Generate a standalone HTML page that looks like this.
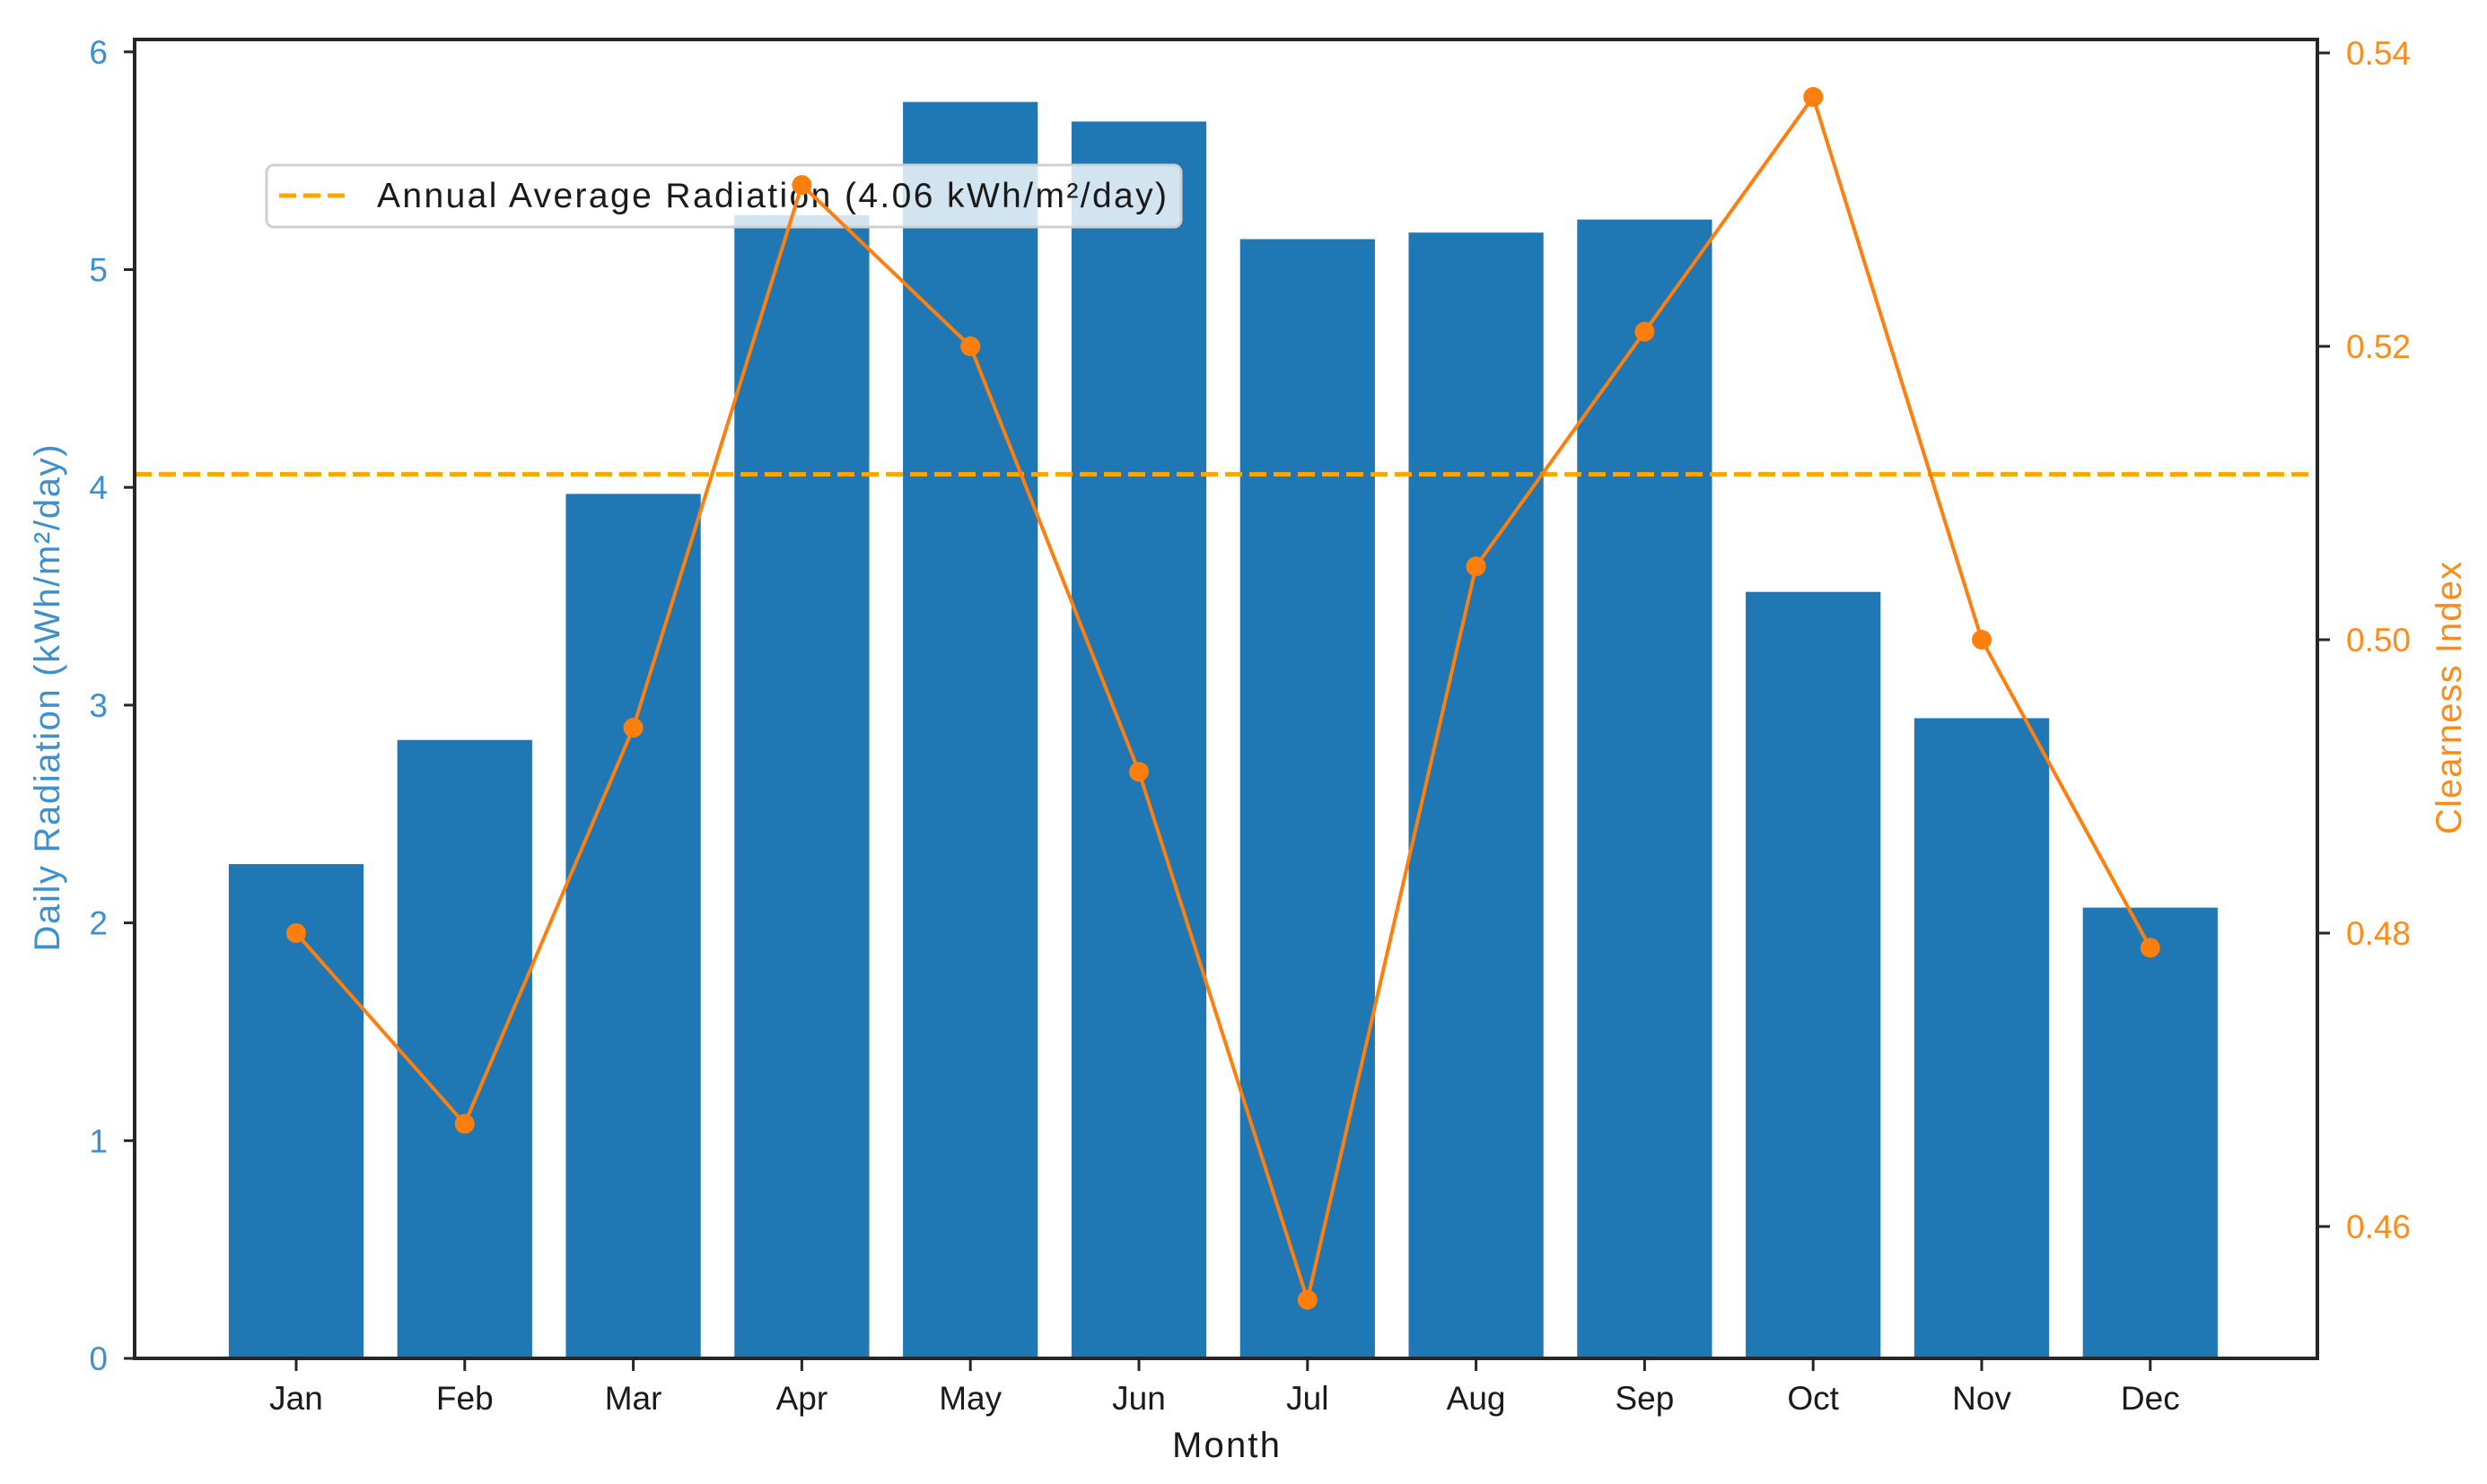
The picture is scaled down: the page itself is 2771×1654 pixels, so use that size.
<!DOCTYPE html>
<html><head><meta charset="utf-8"><style>
html,body{margin:0;padding:0;background:#fff;}
svg{display:block;font-family:"Liberation Sans","DejaVu Sans",sans-serif;}
</style></head><body>
<svg id="chart" width="2771" height="1654" viewBox="0 0 2771 1654" xmlns="http://www.w3.org/2000/svg">
<g id="bars"></g>
<g id="avg"></g>
<g id="legend"></g>
<g id="line"></g>
<g id="axes"></g>
</svg>
<script>
const months = ["Jan","Feb","Mar","Apr","May","Jun","Jul","Aug","Sep","Oct","Nov","Dec"];
const radiation = [2.27,2.84,3.97,5.25,5.77,5.68,5.14,5.17,5.23,3.52,2.94,2.07];
const clearness = [0.480,0.467,0.494,0.531,0.520,0.491,0.455,0.505,0.521,0.537,0.500,0.479];
const annualAverage = 4.06;
const leftTicks = [0,1,2,3,4,5,6];
const rightTicks = [0.46,0.48,0.50,0.52,0.54];
const rightTickLabels = ["0.46","0.48","0.50","0.52","0.54"];

const NS="http://www.w3.org/2000/svg";
const L=150,R=2582,T=44,B=1514;
const xS=i=>330+i*187.8;
const yL=v=>B-v*242.7;
const yR=v=>59+(0.54-v)*16350;
const bw=0.8*187.8;
function mk(tag,parent,attrs){const e=document.createElementNS(NS,tag);for(const k in attrs)e.setAttribute(k,attrs[k]);parent.appendChild(e);return e;}
const gB=document.getElementById('bars'),gA=document.getElementById('avg'),gL=document.getElementById('line'),gX=document.getElementById('axes'),gG=document.getElementById('legend');

radiation.forEach((v,i)=>{
  const r=mk('rect',gB,{x:xS(i)-bw/2,y:yL(v),width:bw,height:B-yL(v),fill:'#1f77b4'});
  
  
});
const al=mk('line',gA,{x1:L,x2:R,y1:yL(annualAverage),y2:yL(annualAverage),stroke:'#ffa500','stroke-width':5,'stroke-dasharray':'19 8'});



const pts=clearness.map((v,i)=>xS(i)+','+yR(v)).join(' ');
const pl=mk('polyline',gL,{points:pts,fill:'none',stroke:'#ff7f0e','stroke-width':4});


clearness.forEach((v,i)=>{
  const c=mk('circle',gL,{cx:xS(i),cy:yR(v),r:11,fill:'#ff7f0e'});
  
  
});

const sp=mk('rect',gX,{x:L,y:T,width:R-L,height:B-T,fill:'none',stroke:'#262626','stroke-width':4});



leftTicks.forEach(v=>{
  mk('line',gX,{x1:L-12,x2:L,y1:yL(v),y2:yL(v),stroke:'#262626','stroke-width':3});
  const t=mk('text',gX,{x:L-30,y:yL(v)+13,'text-anchor':'end','font-size':37,fill:'#3d8fce'});
  t.textContent=v;
  
  
});
rightTicks.forEach((v,i)=>{
  mk('line',gX,{x1:R,x2:R+14,y1:yR(v),y2:yR(v),stroke:'#262626','stroke-width':3});
  const t=mk('text',gX,{x:R+32,y:yR(v)+13,'text-anchor':'start','font-size':37,fill:'#ff8c1a'});
  t.textContent=rightTickLabels[i];
  
  
});
months.forEach((m,i)=>{
  mk('line',gX,{x1:xS(i),x2:xS(i),y1:B,y2:B+14,stroke:'#262626','stroke-width':3});
  const t=mk('text',gX,{x:xS(i),y:B+57,'text-anchor':'middle','font-size':37,fill:'#1a1a1a'});
  t.textContent=m;
  
  
});
let t=mk('text',gX,{x:1366,y:1624,'text-anchor':'middle','font-size':40,fill:'#1a1a1a',textLength:120});
t.textContent='Month';


t=mk('text',gX,{x:0,y:0,'text-anchor':'middle','font-size':40,fill:'#3d8fce',textLength:565,transform:'translate(66,778) rotate(-90)'});
t.textContent='Daily Radiation (kWh/m²/day)';


t=mk('text',gX,{x:0,y:0,'text-anchor':'middle','font-size':40,fill:'#ff8c1a',textLength:304,transform:'translate(2742,778) rotate(-90)'});
t.textContent='Clearness Index';



const lb=mk('rect',gG,{x:297,y:184,width:1019,height:69,rx:8,fill:'rgba(255,255,255,0.8)',stroke:'#d0d0d0','stroke-width':3});


const ll=mk('line',gG,{x1:311,x2:388,y1:218,y2:218,stroke:'#ffa500','stroke-width':5,'stroke-dasharray':'19 8'});


t=mk('text',gG,{x:420,y:231,'font-size':39,fill:'#1a1a1a',textLength:880});
t.textContent='Annual Average Radiation (4.06 kWh/m²/day)';


</script>
</body></html>
